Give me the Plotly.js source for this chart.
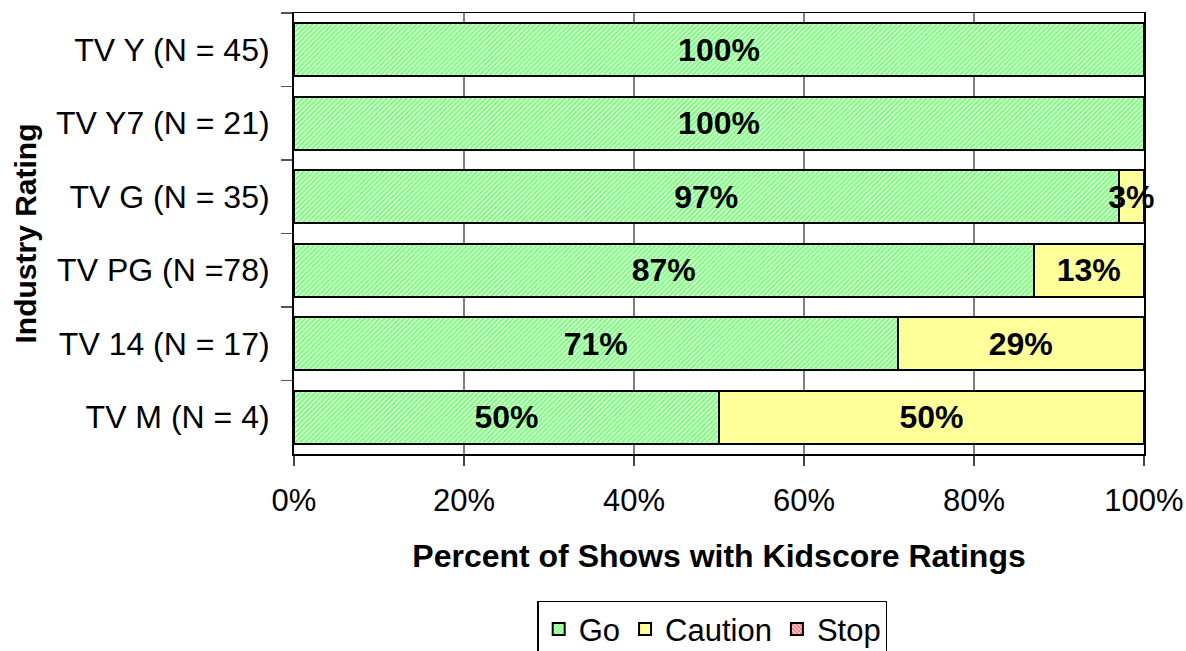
<!DOCTYPE html>
<html>
<head>
<meta charset="utf-8">
<script src="https://cdn.plot.ly/plotly-3.0.1.min.js"></script>
<style>html,body{margin:0;padding:0;background:#fff;}#chart{width:1186px;height:651px;}</style>
</head>
<body>
<div id="chart"></div>
<script>
const categories = ['TV Y (N = 45)', 'TV Y7 (N = 21)', 'TV G (N = 35)', 'TV PG (N =78)', 'TV 14 (N = 17)', 'TV M (N = 4)'];
const goValues = [100, 100, 97, 87, 71, 50];
const cautionValues = [0, 0, 3, 13, 29, 50];
const stopValues = [0, 0, 0, 0, 0, 0];
const xTickValues = [0, 20, 40, 60, 80, 100];
const xTickLabels = ['0%', '20%', '40%', '60%', '80%', '100%'];

const FONT = 'Liberation Sans, Arial, Helvetica, sans-serif';
const lbl = v => v.map(x => x > 0 ? x + '%' : '');

function barTrace(name, values, pattern, color) {
  return {
    type: 'bar', orientation: 'h', name: name,
    y: categories, x: values,
    text: lbl(values), textposition: 'inside', insidetextanchor: 'middle',
    textangle: 0, constraintext: 'none', cliponaxis: false,
    textfont: {family: FONT, size: 32, color: '#000', weight: 'bold'},
    marker: {color: color, line: {color: '#000', width: 2}, pattern: pattern},
    hoverinfo: 'skip'
  };
}

const data = [
  barTrace('Go', goValues, {shape: '/', fgcolor: '#66ff66', bgcolor: '#ddffdd', size: 3.5, solidity: 0.45, fillmode: 'replace'}, '#b0f5b0'),
  barTrace('Caution', cautionValues, {shape: ''}, '#ffff99'),
  barTrace('Stop', stopValues, {shape: '\\', fgcolor: '#ff6060', bgcolor: '#ffe0e0', size: 3.5, solidity: 0.45, fillmode: 'replace'}, '#ff9999')
];

const layout = {
  width: 1186, height: 651,
  margin: {l: 294, r: 42, t: 13, b: 197, pad: 0, autoexpand: false},
  paper_bgcolor: '#fff', plot_bgcolor: '#fff',
  barmode: 'stack', bargap: 0.28,
  font: {family: FONT, size: 31, color: '#000'},
  xaxis: {
    range: [0, 100], tickvals: xTickValues, ticktext: xTickLabels,
    ticks: 'outside', ticklen: 10, tickwidth: 1.5, tickcolor: '#444',
    showgrid: true, gridcolor: '#808080', gridwidth: 1.5,
    showline: true, linecolor: '#000', linewidth: 1.5, mirror: true,
    zeroline: false, fixedrange: true, automargin: false, ticklabelstandoff: 8,
    tickfont: {family: FONT, size: 31, color: '#000'},
    title: {text: 'Percent of Shows with Kidscore Ratings', font: {family: FONT, size: 32, color: '#000', weight: 'bold'}, standoff: 28}
  },
  yaxis: {
    type: 'category', categoryorder: 'array', categoryarray: categories,
    autorange: 'reversed',
    ticks: 'outside', tickson: 'boundaries', ticklen: 11, tickwidth: 1.5, tickcolor: '#555',
    showgrid: false, showline: true, linecolor: '#000', linewidth: 2, mirror: true,
    zeroline: false, fixedrange: true, ticklabelstandoff: 16, automargin: false,
    tickfont: {family: FONT, size: 32, color: '#000'},
    title: {text: 'Industry Rating', font: {family: FONT, size: 30, color: '#000', weight: 'bold'}, standoff: 10}
  },
  showlegend: true,
  legend: {
    orientation: 'h', traceorder: 'normal',
    x: 0.492, xanchor: 'center', y: -0.333, yanchor: 'top',
    bordercolor: '#000', borderwidth: 1.5, bgcolor: '#fff',
    font: {family: FONT, size: 31, color: '#000'},
    itemsizing: 'constant'
  }
};

Plotly.newPlot('chart', data, layout, {staticPlot: true, displayModeBar: false});
</script>
</body>
</html>
